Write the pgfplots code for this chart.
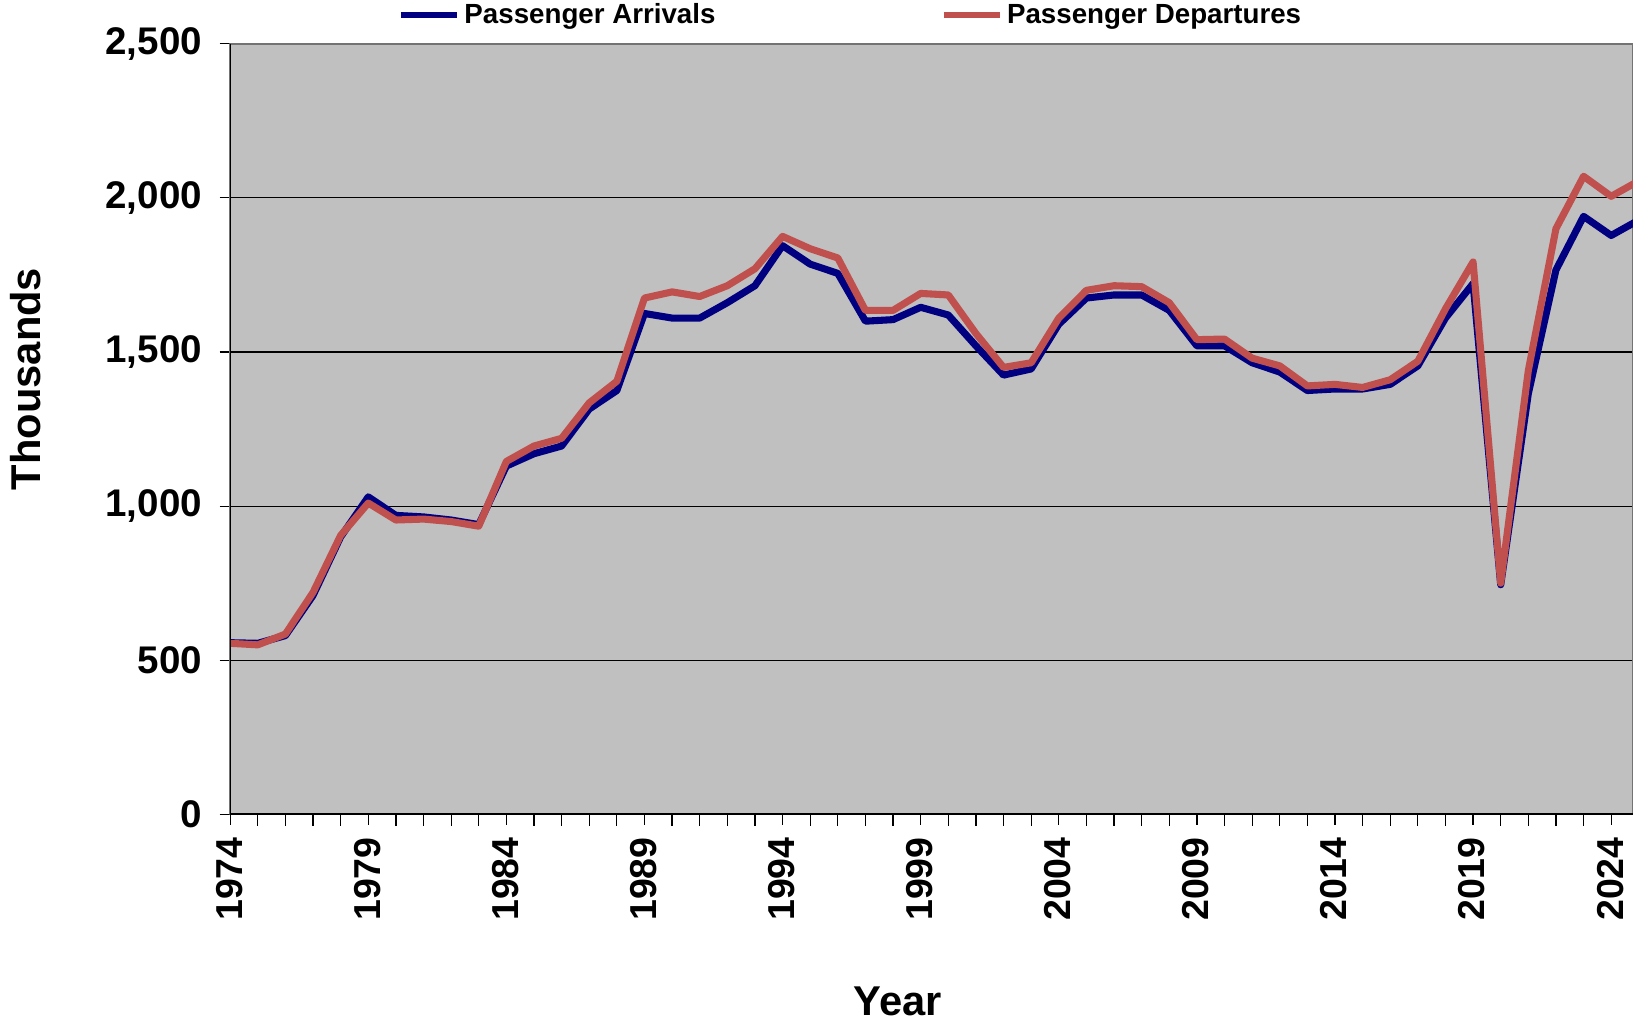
\documentclass[border=0pt]{standalone}
\usepackage{pgfplots}
\pgfplotsset{compat=1.18}
\usepackage{fontspec}
\setmainfont{Liberation Sans}
\definecolor{arrblue}{HTML}{000080}
\definecolor{depred}{HTML}{C0504D}
\definecolor{plotbg}{HTML}{C0C0C0}
\pgfplotstableread{
year arr dep
1974 557 555
1975 555 550
1976 580 585
1977 710 720
1978 900 905
1979 1030 1010
1980 970 955
1981 965 958
1982 955 950
1983 940 935
1984 1130 1145
1985 1170 1195
1986 1195 1220
1987 1315 1335
1988 1375 1405
1989 1625 1675
1990 1610 1695
1991 1610 1680
1992 1660 1715
1993 1715 1770
1994 1845 1875
1995 1785 1835
1996 1755 1805
1997 1600 1635
1998 1605 1635
1999 1645 1690
2000 1620 1685
2001 1520 1560
2002 1425 1450
2003 1445 1465
2004 1590 1610
2005 1675 1700
2006 1685 1715
2007 1685 1712
2008 1635 1660
2009 1520 1540
2010 1520 1542
2011 1465 1480
2012 1435 1455
2013 1375 1390
2014 1380 1395
2015 1380 1385
2016 1395 1410
2017 1455 1470
2018 1610 1640
2019 1722 1792
2020 745 750
2021 1365 1440
2022 1766 1900
2023 1940 2070
2024 1878 2005
2025 1928 2055
}\datatable
\begin{document}
\begin{tikzpicture}
\begin{axis}[
  name=ax,
  scale only axis,
  width=673.5pt, height=370pt,
  xmin=1974, xmax=2024.79,
  ymin=0, ymax=2500,
  axis background/.style={fill=plotbg},
  axis line style={draw=black!55, line width=1pt},
  ytick={0,500,1000,1500,2000,2500},
  xtick={1974,1979,...,2024},
  minor x tick num=4,
  tick align=outside,
  major tick length=5pt,
  minor tick length=5.5pt,
  every tick/.style={black, line width=0.6pt},
  xtick pos=bottom, ytick pos=left,
  ymajorgrids,
  major grid style={black, line width=0.6pt},
  /pgf/number format/assume math mode=true,
  /pgf/number format/1000 sep={,},
  x tick label style={/pgf/number format/1000 sep={}, rotate=90, anchor=east, xshift=-2.5pt, yshift=0.5pt, font=\bfseries\fontsize{18}{18}\selectfont},
  y tick label style={xshift=-5pt, font=\bfseries\fontsize{18.5}{18.5}\selectfont},
  xlabel={Year},
  ylabel={Thousands},
  xlabel style={at={(axis description cs:0.476,0)}, anchor=center, yshift=-90pt, font=\bfseries\fontsize{20}{20}\selectfont},
  ylabel style={at={(axis description cs:0,0.565)}, anchor=center, yshift=98pt, font=\bfseries\fontsize{20}{20}\selectfont},
  legend columns=2,
  legend style={at={(axis description cs:0.443,1)}, anchor=south, yshift=4pt, draw=none, fill=none,
    font=\bfseries\fontsize{13.3}{14}\selectfont,
    /tikz/every even column/.append style={column sep=106pt}},
  legend image code/.code={\draw[#1, line width=3pt] (0pt,0pt) -- (27pt,0pt);},
  legend cell align=left,
  line join=round,
]
\addplot[arrblue, line width=3.4pt, line join=round] table[x=year, y=arr] {\datatable};
\addlegendentry[xshift=-1.5pt]{Passenger Arrivals}
\addplot[depred, line width=3.4pt, line join=round] table[x=year, y=dep] {\datatable};
\addlegendentry[xshift=-1.5pt]{Passenger Departures}
\draw[black, line width=1pt] (rel axis cs:0,1) -- (rel axis cs:0,0) -- (rel axis cs:1,0);
\end{axis}
\pgfresetboundingbox
\path ([xshift=-110.5pt,yshift=-100pt]ax.south west) rectangle ([yshift=21pt]ax.north east);
\end{tikzpicture}
\end{document}
